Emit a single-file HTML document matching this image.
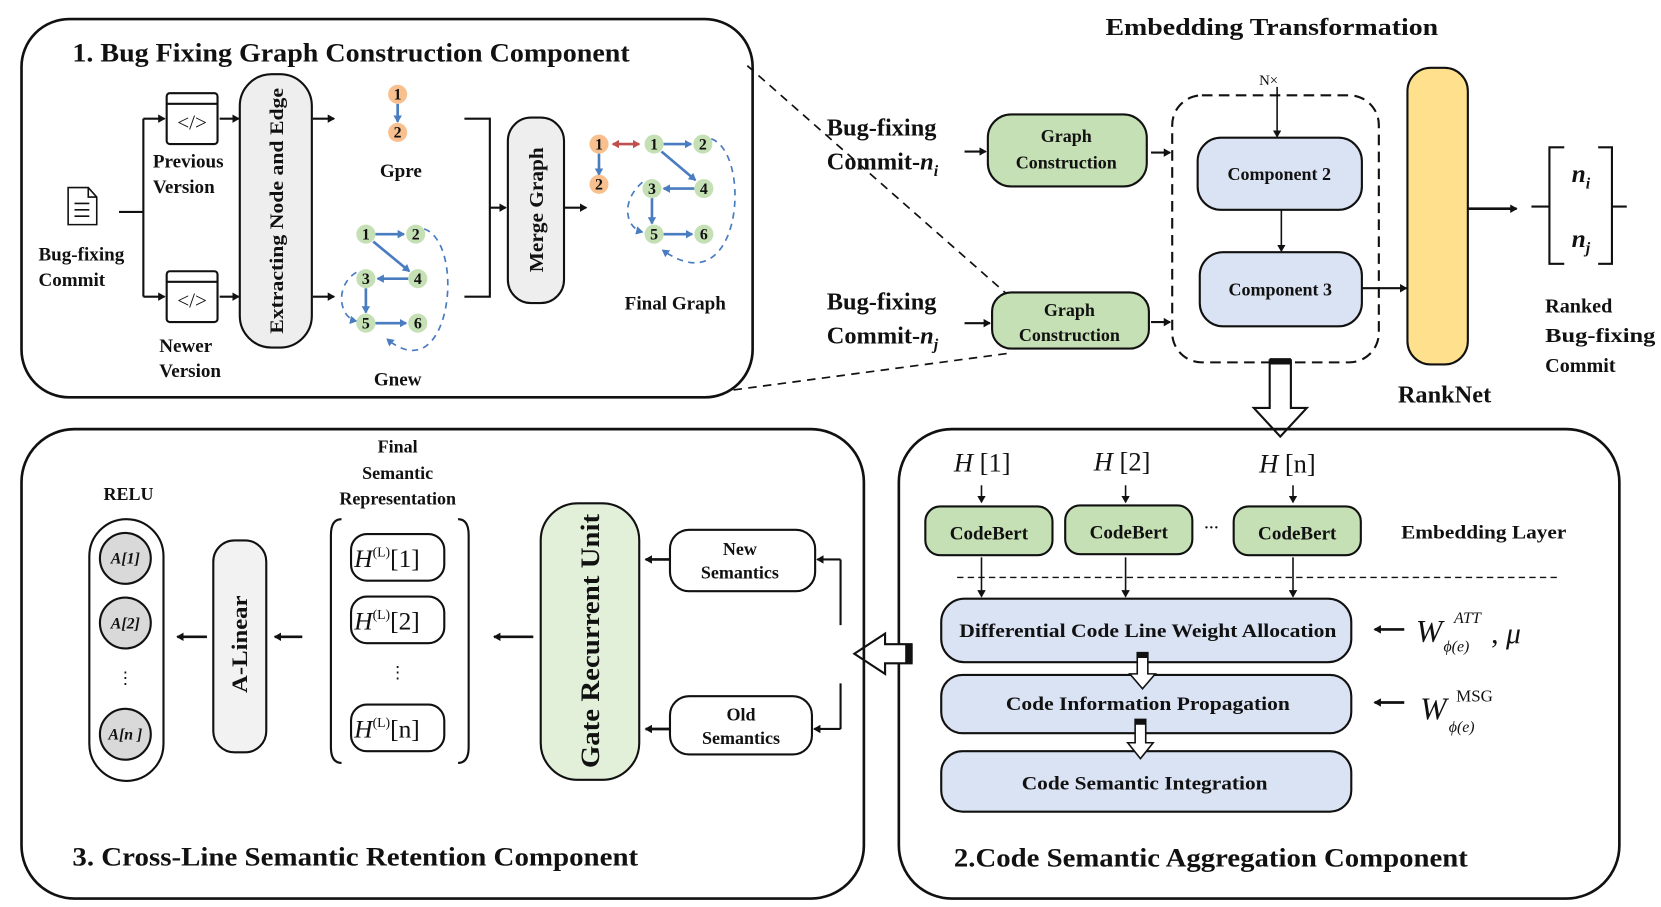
<!DOCTYPE html>
<html><head><meta charset="utf-8"><style>
html,body{margin:0;padding:0;background:#fff;}
svg{display:block;}
text{font-family:"Liberation Serif",serif;font-weight:bold;fill:#111;}
.it{font-style:italic;}
.n{font-weight:normal;}
</style></head><body>
<svg width="1661" height="907" viewBox="0 0 1567 856" xmlns="http://www.w3.org/2000/svg">
<defs>
<marker id="a" markerWidth="8" markerHeight="8" refX="6" refY="4" orient="auto" markerUnits="userSpaceOnUse"><path d="M0,0 L7,4 L0,8 z" fill="#111"/></marker>
<marker id="b" markerWidth="8" markerHeight="8" refX="6" refY="4" orient="auto" markerUnits="userSpaceOnUse"><path d="M0,0 L7,4 L0,8 z" fill="#4a7cc0"/></marker>
<marker id="r" markerWidth="8" markerHeight="8" refX="6" refY="4" orient="auto-start-reverse" markerUnits="userSpaceOnUse"><path d="M0,0 L7,4 L0,8 z" fill="#c0504d"/></marker>
</defs>
<g stroke="#111" stroke-width="2" fill="none">
<rect x="20" y="18" width="690" height="357" rx="45" stroke-width="2.5"/>
<path d="M705,62 L955,282" stroke-dasharray="8,6" stroke-width="1.6"/>
<path d="M692,368 L955,333" stroke-dasharray="8,6" stroke-width="1.6"/>
<path d="M64,177 L83,177 L91,186 L91,212 L64,212 Z M83,177 L83,186 L91,186 M70,192 H84 M70,198 H84 M70,204 H84" stroke-width="1.5"/>
<path d="M112,200 H135 M135,112 V280"/>
<path d="M135,112 H155" marker-end="url(#a)"/>
<path d="M135,280 H155" marker-end="url(#a)"/>
<rect x="157" y="88" width="48" height="48" rx="3"/><path d="M157,98 H205"/>
<rect x="157" y="256" width="48" height="48" rx="3"/><path d="M157,266 H205"/>
<path d="M207,112 H225" marker-end="url(#a)"/>
<path d="M207,280 H225" marker-end="url(#a)"/>
<rect x="226" y="70" width="68" height="258" rx="30" fill="#eee"/>
<path d="M295,112 H315" marker-end="url(#a)"/>
<path d="M295,280 H315" marker-end="url(#a)"/>
<path d="M438,112 H462 V280 H438"/>
<path d="M462,196 H477" marker-end="url(#a)"/>
<rect x="479" y="111" width="53" height="175" rx="22" fill="#eee"/>
<path d="M532,196 H553" marker-end="url(#a)"/>
</g>
<text x="68" y="58" font-size="25" textLength="526" lengthAdjust="spacingAndGlyphs">1. Bug Fixing Graph Construction Component</text>
<text x="181" y="122" font-size="20" class="n" text-anchor="middle">&lt;/&gt;</text>
<text x="181" y="290" font-size="20" class="n" text-anchor="middle">&lt;/&gt;</text>
<text x="36" y="246" font-size="18">Bug-fixing</text><text x="36" y="270" font-size="18">Commit</text>
<text x="144" y="158" font-size="18">Previous</text><text x="144" y="182" font-size="18">Version</text>
<text x="150" y="332" font-size="18">Newer</text><text x="150" y="356" font-size="18">Version</text>
<text transform="translate(267,199) rotate(-90)" font-size="18" text-anchor="middle" textLength="232" lengthAdjust="spacingAndGlyphs">Extracting Node and Edge</text>
<text transform="translate(512,198) rotate(-90)" font-size="19" text-anchor="middle" textLength="118" lengthAdjust="spacingAndGlyphs">Merge Graph</text>
<g stroke="#4a7cc0" stroke-width="2.5" fill="none">
<path d="M375,98 V115" marker-end="url(#b)"/>
<path d="M354,221 H381" marker-end="url(#b)"/>
<path d="M352,228 L386,256" marker-end="url(#b)"/>
<path d="M385,263 H356" marker-end="url(#b)"/>
<path d="M345,272 V295" marker-end="url(#b)"/>
<path d="M354,305 H383" marker-end="url(#b)"/>
<path d="M400,216 C440,230 425,370 365,320" stroke-dasharray="6,5" stroke-width="1.6" marker-end="url(#b)"/>
<path d="M336,257 C315,270 320,300 336,303" stroke-dasharray="6,5" stroke-width="1.6" marker-end="url(#b)"/>
<path d="M565,145 V165" marker-end="url(#b)"/>
<path d="M626,136 H652" marker-end="url(#b)"/>
<path d="M624,143 L656,170" marker-end="url(#b)"/>
<path d="M655,178 H626" marker-end="url(#b)"/>
<path d="M615,187 V211" marker-end="url(#b)"/>
<path d="M626,221 H653" marker-end="url(#b)"/>
<path d="M671,131 C710,145 700,290 625,236" stroke-dasharray="6,5" stroke-width="1.6" marker-end="url(#b)"/>
<path d="M606,172 C585,190 590,215 606,219" stroke-dasharray="6,5" stroke-width="1.6" marker-end="url(#b)"/>
</g>
<path d="M578,136 H603" stroke="#c0504d" stroke-width="2.5" marker-start="url(#r)" marker-end="url(#r)"/>
<g font-size="15" text-anchor="middle">
<circle cx="375" cy="89" r="9" fill="#f8c08e"/><text x="375" y="94">1</text>
<circle cx="375" cy="125" r="9" fill="#f8c08e"/><text x="375" y="130">2</text>
<circle cx="345" cy="221" r="9" fill="#c5e0b4"/><text x="345" y="226">1</text>
<circle cx="392" cy="221" r="9" fill="#c5e0b4"/><text x="392" y="226">2</text>
<circle cx="345" cy="263" r="9" fill="#c5e0b4"/><text x="345" y="268">3</text>
<circle cx="394" cy="263" r="9" fill="#c5e0b4"/><text x="394" y="268">4</text>
<circle cx="345" cy="305" r="9" fill="#c5e0b4"/><text x="345" y="310">5</text>
<circle cx="394" cy="305" r="9" fill="#c5e0b4"/><text x="394" y="310">6</text>
<circle cx="565" cy="136" r="9" fill="#f8c08e"/><text x="565" y="141">1</text>
<circle cx="565" cy="174" r="9" fill="#f8c08e"/><text x="565" y="179">2</text>
<circle cx="617" cy="136" r="9" fill="#c5e0b4"/><text x="617" y="141">1</text>
<circle cx="663" cy="136" r="9" fill="#c5e0b4"/><text x="663" y="141">2</text>
<circle cx="615" cy="178" r="9" fill="#c5e0b4"/><text x="615" y="183">3</text>
<circle cx="664" cy="178" r="9" fill="#c5e0b4"/><text x="664" y="183">4</text>
<circle cx="617" cy="221" r="9" fill="#c5e0b4"/><text x="617" y="226">5</text>
<circle cx="664" cy="221" r="9" fill="#c5e0b4"/><text x="664" y="226">6</text>
</g>
<text x="378" y="167" font-size="18" text-anchor="middle">Gpre</text>
<text x="375" y="364" font-size="18" text-anchor="middle">Gnew</text>
<text x="637" y="292" font-size="18" text-anchor="middle">Final Graph</text>

<text x="1200" y="33" font-size="23" text-anchor="middle" textLength="314" lengthAdjust="spacingAndGlyphs">Embedding Transformation</text>
<text x="780" y="128" font-size="23">Bug-fixing</text>
<text x="780" y="160" font-size="23">Commit-<tspan class="it">n</tspan><tspan class="it" font-size="15" dy="6">i</tspan></text>
<text x="780" y="292" font-size="23">Bug-fixing</text>
<text x="780" y="324" font-size="23">Commit-<tspan class="it">n</tspan><tspan class="it" font-size="15" dy="6">j</tspan></text>
<g stroke="#111" stroke-width="2" fill="none">
<path d="M910,143 H930" marker-end="url(#a)"/>
<path d="M910,305 H934" marker-end="url(#a)"/>
<rect x="932" y="108" width="150" height="68" rx="22" fill="#c5e0b4"/>
<rect x="936" y="276" width="148" height="53" rx="18" fill="#c5e0b4"/>
<path d="M1086,144 H1104" marker-end="url(#a)"/>
<path d="M1086,304 H1104" marker-end="url(#a)"/>
<rect x="1106" y="90" width="195" height="252" rx="28" stroke-dasharray="10,6"/>
<path d="M1205,82 V129" stroke-width="1.5" marker-end="url(#a)"/>
<rect x="1130" y="130" width="155" height="68" rx="22" fill="#dae3f3"/>
<rect x="1132" y="238" width="153" height="70" rx="22" fill="#dae3f3"/>
<path d="M1209,198 V237" stroke-width="1.5" marker-end="url(#a)"/>
<path d="M1285,272 H1327" marker-end="url(#a)"/>
<rect x="1328" y="64" width="57" height="280" rx="22" fill="#ffe08c"/>
<path d="M1385,197 H1431" stroke-width="2.5" marker-end="url(#a)"/>
<path d="M1445,195 H1462 M1476,139 H1462 V249 H1476 M1508,139 H1521 V249 H1508 M1521,195 H1535"/>
</g>
<text x="1006" y="134" font-size="17" text-anchor="middle">Graph</text>
<text x="1006" y="159" font-size="17" text-anchor="middle">Construction</text>
<text x="1009" y="298" font-size="17" text-anchor="middle">Graph</text>
<text x="1009" y="322" font-size="17" text-anchor="middle">Construction</text>
<text x="1197" y="80" font-size="14" class="n" text-anchor="middle">N×</text>
<text x="1207" y="170" font-size="17" text-anchor="middle">Component 2</text>
<text x="1208" y="279" font-size="17" text-anchor="middle">Component 3</text>
<text x="1363" y="380" font-size="23" text-anchor="middle">RankNet</text>
<text x="1483" y="172" font-size="24" class="it">n<tspan font-size="15" dy="6">i</tspan></text>
<text x="1483" y="233" font-size="24" class="it">n<tspan font-size="15" dy="6">j</tspan></text>
<text x="1458" y="295" font-size="19">Ranked</text>
<text x="1458" y="323" font-size="19" textLength="104" lengthAdjust="spacingAndGlyphs">Bug-fixing</text>
<text x="1458" y="351" font-size="19">Commit</text>
<path d="M1198,340 H1218 V385 H1233 L1208,412 L1183,385 H1198 Z" fill="#fff" stroke="#111" stroke-width="2"/>
<rect x="1198" y="338" width="20" height="6" fill="#111"/>

<g stroke="#111" stroke-width="2" fill="none">
<rect x="848" y="405" width="680" height="443" rx="50" stroke-width="2.5"/>
<path d="M926,458 V474" stroke-width="1.5" marker-end="url(#a)"/>
<path d="M1062,458 V474" stroke-width="1.5" marker-end="url(#a)"/>
<path d="M1220,458 V474" stroke-width="1.5" marker-end="url(#a)"/>
<rect x="873" y="478" width="120" height="46" rx="14" fill="#c5e0b4"/>
<rect x="1005" y="477" width="120" height="46" rx="14" fill="#c5e0b4"/>
<rect x="1164" y="478" width="120" height="46" rx="14" fill="#c5e0b4"/>
<path d="M903,545 H1470" stroke-dasharray="6,4" stroke-width="1.3"/>
<path d="M926,526 V563" stroke-width="1.5" marker-end="url(#a)"/>
<path d="M1062,526 V563" stroke-width="1.5" marker-end="url(#a)"/>
<path d="M1220,526 V563" stroke-width="1.5" marker-end="url(#a)"/>
<rect x="888" y="565" width="387" height="60" rx="22" fill="#dae3f3"/>
<rect x="888" y="637" width="387" height="55" rx="20" fill="#dae3f3"/>
<rect x="888" y="709" width="387" height="57" rx="20" fill="#dae3f3"/>
<path d="M1325,594 H1297" stroke-width="2.5" marker-end="url(#a)"/>
<path d="M1325,663 H1297" stroke-width="2.5" marker-end="url(#a)"/>
</g>
<path d="M1073,616 H1083 V636 H1090 L1078,650 L1066,636 H1073 Z" fill="#fff" stroke="#111" stroke-width="1.5"/>
<rect x="1073" y="616" width="10" height="5" fill="#111"/>
<path d="M1071,679 H1081 V701 H1088 L1076,716 L1064,701 H1071 Z" fill="#fff" stroke="#111" stroke-width="1.5"/>
<rect x="1071" y="679" width="10" height="5" fill="#111"/>
<text x="900" y="445" font-size="25" class="n"><tspan class="it">H</tspan>  [1]</text>
<text x="1032" y="444" font-size="25" class="n"><tspan class="it">H</tspan>  [2]</text>
<text x="1188" y="446" font-size="25" class="n"><tspan class="it">H</tspan>  [n]</text>
<text x="933" y="509" font-size="18" text-anchor="middle">CodeBert</text>
<text x="1065" y="508" font-size="18" text-anchor="middle">CodeBert</text>
<text x="1224" y="509" font-size="18" text-anchor="middle">CodeBert</text>
<text x="1143" y="502" font-size="14" text-anchor="middle">···</text>
<text x="1400" y="508" font-size="18" text-anchor="middle" textLength="156" lengthAdjust="spacingAndGlyphs">Embedding Layer</text>
<text x="1083" y="601" font-size="18" text-anchor="middle" textLength="356" lengthAdjust="spacingAndGlyphs">Differential Code Line Weight Allocation</text>
<text x="1083" y="670" font-size="18" text-anchor="middle" textLength="268" lengthAdjust="spacingAndGlyphs">Code Information  Propagation</text>
<text x="1080" y="745" font-size="18" text-anchor="middle" textLength="232" lengthAdjust="spacingAndGlyphs">Code Semantic Integration</text>
<text x="1336" y="606" font-size="30" class="n it">W</text>
<text x="1362" y="615" font-size="15" class="n it">ϕ(e)</text>
<text x="1372" y="588" font-size="15" class="n it">ATT</text>
<text x="1407" y="607" font-size="28" class="n">, <tspan class="it">μ</tspan></text>
<text x="1340" y="679" font-size="30" class="n it">W</text>
<text x="1374" y="662" font-size="16" class="n">MSG</text>
<text x="1367" y="691" font-size="15" class="n it">ϕ(e)</text>
<text x="900" y="818" font-size="25" textLength="485" lengthAdjust="spacingAndGlyphs">2.Code Semantic Aggregation Component</text>

<path d="M860,608 H835 V598 L806,617 L835,636 V626 H860 Z" fill="#fff" stroke="#111" stroke-width="2"/>
<rect x="854" y="608" width="7" height="18" fill="#111"/>

<g stroke="#111" stroke-width="2" fill="none">
<rect x="20" y="405" width="795" height="443" rx="50" stroke-width="2.5"/>
<path d="M793,590 V528 M793,645 V688"/>
<path d="M793,528 H771" marker-end="url(#a)"/>
<path d="M793,688 H768" marker-end="url(#a)"/>
<rect x="632" y="500" width="137" height="58" rx="18"/>
<rect x="632" y="657" width="134" height="55" rx="18"/>
<path d="M632,528 H609" stroke-width="2.5" marker-end="url(#a)"/>
<path d="M632,688 H609" stroke-width="2.5" marker-end="url(#a)"/>
<rect x="510" y="475" width="93" height="261" rx="35" fill="#e2f0d9"/>
<path d="M503,601 H466" stroke-width="2.5" marker-end="url(#a)"/>
<path d="M322,490 Q312,490 312,505 V705 Q312,720 322,720"/>
<path d="M432,490 Q442,490 442,505 V705 Q442,720 432,720"/>
<rect x="331" y="504" width="88" height="44" rx="15"/>
<rect x="331" y="563" width="88" height="44" rx="15"/>
<rect x="331" y="665" width="88" height="44" rx="15"/>
<path d="M285,601 H259" stroke-width="2.5" marker-end="url(#a)"/>
<rect x="201" y="510" width="50" height="200" rx="20" fill="#f2f2f2"/>
<path d="M195,601 H167" stroke-width="2.5" marker-end="url(#a)"/>
<rect x="84" y="490" width="70" height="247" rx="35"/>
<circle cx="118" cy="527" r="24" fill="#d9d9d9"/>
<circle cx="118" cy="588" r="24" fill="#d9d9d9"/>
<circle cx="118" cy="693" r="24" fill="#d9d9d9"/>
</g>
<text x="698" y="524" font-size="17" text-anchor="middle">New</text>
<text x="698" y="546" font-size="17" text-anchor="middle">Semantics</text>
<text x="699" y="680" font-size="17" text-anchor="middle">Old</text>
<text x="699" y="702" font-size="17" text-anchor="middle">Semantics</text>
<text transform="translate(565,605) rotate(-90)" font-size="25" text-anchor="middle" textLength="240" lengthAdjust="spacingAndGlyphs">Gate Recurrent Unit</text>
<text x="375" y="427" font-size="17" text-anchor="middle">Final</text>
<text x="375" y="452" font-size="17" text-anchor="middle">Semantic</text>
<text x="375" y="476" font-size="17" text-anchor="middle">Representation</text>
<g class="n" font-size="24">
<text x="334" y="535" class="n"><tspan class="it">H</tspan><tspan font-size="13" dy="-10">(L)</tspan><tspan dy="10">[1]</tspan></text>
<text x="334" y="594" class="n"><tspan class="it">H</tspan><tspan font-size="13" dy="-10">(L)</tspan><tspan dy="10">[2]</tspan></text>
<text x="334" y="696" class="n"><tspan class="it">H</tspan><tspan font-size="13" dy="-10">(L)</tspan><tspan dy="10">[n]</tspan></text>
</g>
<text x="375" y="640" font-size="16" class="n" text-anchor="middle">⋮</text>
<text transform="translate(233,608) rotate(-90)" font-size="21" text-anchor="middle" textLength="92" lengthAdjust="spacingAndGlyphs">A-Linear</text>
<text x="121" y="472" font-size="17" text-anchor="middle">RELU</text>
<text x="118" y="532" font-size="15" class="it" text-anchor="middle">A[1]</text>
<text x="118" y="593" font-size="15" class="it" text-anchor="middle">A[2]</text>
<text x="118" y="698" font-size="15" class="it" text-anchor="middle">A[n ]</text>
<text x="118" y="645" font-size="16" class="n" text-anchor="middle">⋮</text>
<text x="68" y="817" font-size="25" textLength="534" lengthAdjust="spacingAndGlyphs">3. Cross-Line Semantic Retention Component</text>
</svg>
</body></html>
